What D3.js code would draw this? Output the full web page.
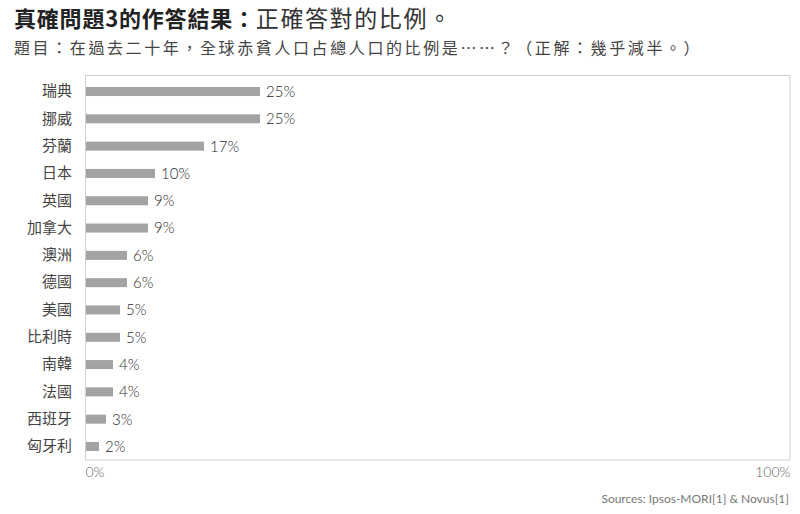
<!DOCTYPE html>
<html>
<head>
<meta charset="utf-8">
<script src="https://cdn.jsdelivr.net/npm/d3@7"></script>
<style>
  body { margin: 0; background: #fff; }
  svg { display: block; }
</style>
</head>
<body>
<svg width="800" height="514"></svg>
<script>
// data
var countries = ["瑞典", "挪威", "芬蘭", "日本", "英國", "加拿大", "澳洲", "德國", "美國", "比利時", "南韓", "法國", "西班牙", "匈牙利"];
var percents = [25, 25, 17, 10, 9, 9, 6, 6, 5, 5, 4, 4, 3, 2];
var axisTicks = [0, 100];

var cjk = "'Noto Sans CJK TC', 'Noto Sans CJK SC', sans-serif";
var latin = "Lato, 'Noto Sans', sans-serif";

var svg = d3.select("svg");

// titles
var title = svg.append("text")
  .attr("x", 14)
  .attr("y", 27)
  .attr("font-family", cjk)
  .attr("font-size", 22)
  .attr("letter-spacing", 0.8)
  .attr("fill", "#222");
title.append("tspan").attr("font-weight", "bold").text("真確問題3的作答結果：");
title.append("tspan")
  .attr("font-weight", "normal")
  .attr("font-size", 23)
  .attr("letter-spacing", 1.6)
  .attr("fill", "#333")
  .text("正確答對的比例。");

svg.append("text")
  .attr("x", 14)
  .attr("y", 54)
  .attr("font-family", cjk)
  .attr("font-size", 16)
  .attr("letter-spacing", 2.6)
  .attr("fill", "#444")
  .text("題目：在過去二十年，全球赤貧人口占總人口的比例是⋯⋯？（正解：幾乎減半。）");

var xScale = d3.scaleLinear()
  .domain([0, 100])
  .range([85, 785]);

var yScale = d3.scaleBand()
  .domain(countries)
  .range([78, 460])
  .paddingInner(0.67)
  .paddingOuter(0.33);

// plot frame
svg.append("rect")
  .attr("x", 85.5)
  .attr("y", 75.5)
  .attr("width", 790 - 85.5)
  .attr("height", 460 - 75.5)
  .attr("fill", "none")
  .attr("stroke", "#d0d0d0")
  .attr("stroke-width", 1);

var rows = percents.map(function (p, i) { return { name: countries[i], value: p }; });

svg.append("g")
  .selectAll("rect")
  .data(rows)
  .enter()
  .append("rect")
  .attr("x", xScale(0) + 1)
  .attr("y", function (d) { return yScale(d.name); })
  .attr("width", function (d) { return xScale(d.value) - xScale(0) - 1; })
  .attr("height", yScale.bandwidth())
  .attr("fill", "#a3a3a3");

svg.append("g")
  .selectAll("text")
  .data(rows)
  .enter()
  .append("text")
  .attr("x", function (d) { return xScale(d.value) + 6; })
  .attr("y", function (d) { return yScale(d.name) + yScale.bandwidth() / 2; })
  .attr("dy", "0.36em")
  .attr("font-family", latin)
  .attr("font-size", 15)
  .attr("font-weight", 300)
  .attr("fill", "#2a2a2a")
  .text(function (d) { return d.value + "%"; });

// category axis
var yAxis = d3.axisLeft(yScale).tickSize(0).tickPadding(13);
var yAxisG = svg.append("g")
  .attr("transform", "translate(85,0)")
  .call(yAxis);
yAxisG.select(".domain").remove();
yAxisG.selectAll("text")
  .attr("font-family", cjk)
  .attr("font-size", 15)
  .attr("fill", "#444");

// value axis labels
var xAxis = d3.axisBottom(xScale).tickValues(axisTicks).tickSize(0).tickPadding(7)
  .tickFormat(function (d) { return d + "%"; });
var xAxisG = svg.append("g")
  .attr("transform", "translate(0,460)")
  .call(xAxis);
xAxisG.select(".domain").remove();
xAxisG.selectAll("text")
  .attr("font-family", latin)
  .attr("font-size", 14)
  .attr("font-weight", 300)
  .attr("fill", "#666")
  .attr("text-anchor", function (d) { return d === 0 ? "start" : "end"; })
  .attr("dx", function (d) { return d === 0 ? 0 : 5; });

svg.append("text")
  .attr("x", 789)
  .attr("y", 503)
  .attr("text-anchor", "end")
  .attr("font-family", latin)
  .attr("font-size", 12)
  .attr("fill", "#777")
  .text("Sources: Ipsos-MORI[1] & Novus[1]");
</script>
</body>
</html>
